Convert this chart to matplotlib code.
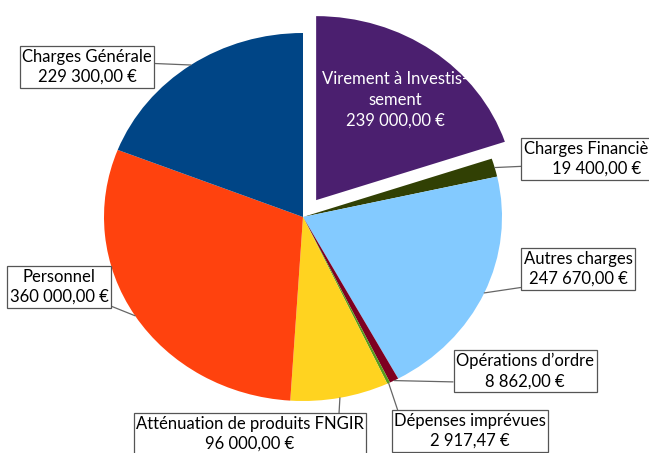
import numpy as np
import matplotlib
matplotlib.use("Agg")
import matplotlib.pyplot as plt

plt.rcParams['font.family'] = ['Lato', 'DejaVu Sans']

categories = ["Virement à Investis-\nsement", "Charges Financières", "Autres charges",
              "Opérations d’ordre", "Dépenses imprévues", "Atténuation de produits FNGIR",
              "Personnel", "Charges Générale"]
values = [239000.00, 19400.00, 247670.00, 8862.00, 2917.47, 96000.00, 360000.00, 229300.00]
colors = ["#4b1f6f", "#314004", "#83caff", "#7e0021", "#579d1c", "#ffd320", "#ff420e", "#004586"]
explode = [0.113, 0, 0, 0, 0, 0, 0, 0]

def fmt(v):
    s = f"{v:,.2f}"
    ent, dec = s.split(".")
    return ent.replace(",", " ") + "," + dec + " €"

W, H = 649, 453
FS = 12.0
LS = 1.32
fig = plt.figure(figsize=(W / 100, H / 100), dpi=100)
ax = fig.add_axes([0, 0, 1, 1])
wedges, _ = ax.pie(values, colors=colors, explode=explode, startangle=90,
                   counterclock=False, wedgeprops=dict(linewidth=0))
ax.set_aspect('auto')
cx, cy, rx, ry = 303, 217, 199, 184
ax.set_xlim(-cx / rx, (W - cx) / rx)
ax.set_ylim(-(H - cy) / ry, cy / ry)
ax.axis('off')

# label box positions (pixels, layout only)
label_pos = {
    1: (597, 159),
    2: (578, 269),
    3: (525, 371),
    4: (470, 431),
    5: (250, 434),
    6: (59, 287),
    7: (87, 67),
}
relpos = {1: (0, 0.3), 2: (0, 0), 3: (0, 0.2), 4: (0.03, 1), 5: (0.89, 1), 6: (1, 0), 7: (1, 0.6)}

for i, w in enumerate(wedges):
    txt = categories[i] + "\n" + fmt(values[i])
    if i == 0:
        fig.text(395 / W, 1 - 100 / H, txt, color="white", ha="center", va="center",
                 fontsize=FS, linespacing=LS + 0.05)
        continue
    mid = np.deg2rad((w.theta1 + w.theta2) / 2)
    xy = (np.cos(mid), np.sin(mid))
    px, py = label_pos[i]
    ax.annotate(txt, xy=xy, xycoords='data', xytext=(px / W, 1 - py / H),
                textcoords='figure fraction', ha='center', va='center',
                fontsize=FS, linespacing=LS, color='black',
                bbox=dict(boxstyle='square,pad=0.15', fc='white', ec='#555555', lw=0.9),
                arrowprops=dict(arrowstyle='-', color='#666666', lw=0.9,
                                shrinkA=0, shrinkB=0, relpos=relpos[i]),
                annotation_clip=False)

fig.savefig("out.png", dpi=100)
